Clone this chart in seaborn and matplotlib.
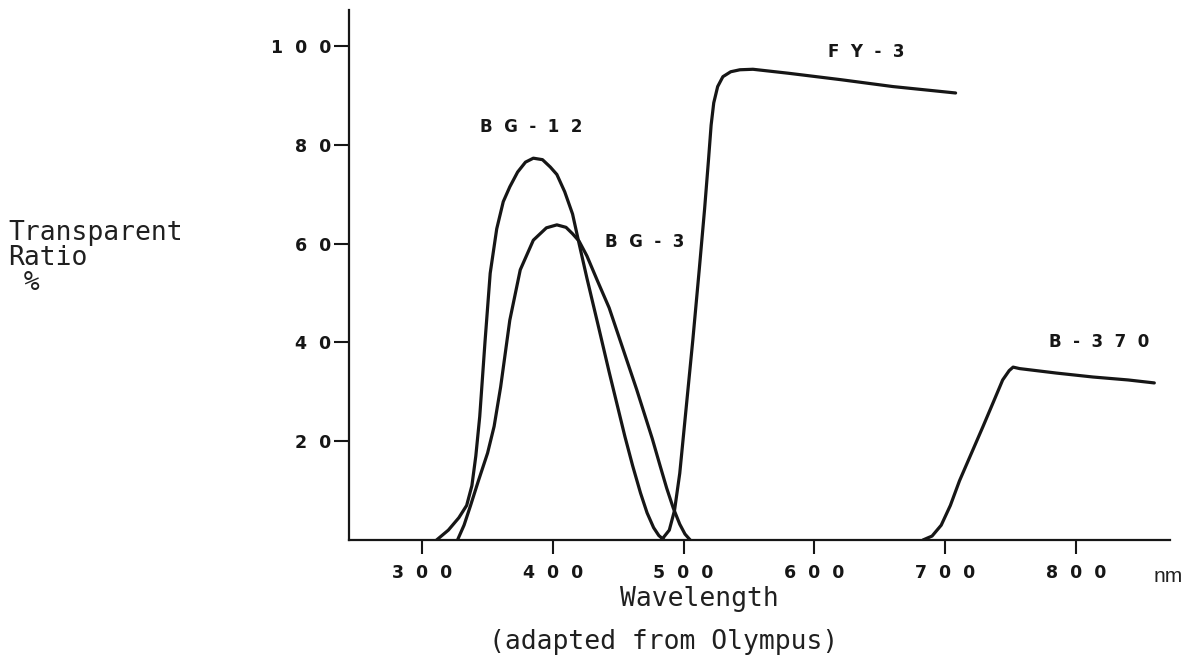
import matplotlib
matplotlib.use("Agg")
import matplotlib.pyplot as plt
import seaborn as sns

# ---- data (wavelength in nm, transparent ratio in %) ----
bg12_nm = [311, 320, 328, 334, 338, 341, 344, 348, 352, 357, 362, 367, 373, 379,
           385, 392, 398, 403, 409, 415, 420, 426, 435, 443, 449, 455, 461, 467,
           472, 477, 481, 485]
bg12_pct = [0, 2, 4.5, 7, 11, 17, 25, 40, 54, 63, 68.5, 71.5, 74.5, 76.5,
            77.3, 77, 75.5, 74, 70.5, 66, 60, 53, 43, 34, 27.5, 21, 15, 9.5,
            5.5, 2.5, 0.9, 0]

bg3_nm = [327, 332, 337, 343, 350, 355, 360, 367, 375, 385, 395, 403, 410, 415,
          420, 426, 434, 443, 450, 457, 464, 470, 476, 482, 487, 492, 497, 501, 505]
bg3_pct = [0, 3, 7, 12, 17.6, 23, 31, 44.5, 54.7, 60.7, 63.2, 63.8, 63.3, 62,
           60.5, 57.5, 52.5, 47, 41.5, 36, 30.5, 25.5, 20.5, 15, 10.5, 6.5, 3.2,
           1.2, 0]

fy3_nm = [483, 489, 493, 497, 502, 507, 512, 516, 519, 521, 523, 526, 530, 536,
          543, 553, 580, 620, 660, 708]
fy3_pct = [0, 2, 6, 13.5, 27, 40.5, 55, 67, 77, 84, 88.5, 91.8, 93.8, 94.8,
           95.2, 95.3, 94.5, 93.2, 91.8, 90.5]

b370_nm = [683, 690, 697, 704, 711, 720, 729, 737, 744, 749, 752, 757, 785, 813,
           840, 860]
b370_pct = [0, 0.8, 3, 7, 12, 17.5, 23, 28, 32.4, 34.3, 35, 34.7, 33.8, 33,
            32.4, 31.8]

curve_names = ["BG-12", "BG-3", "FY-3", "B-370"]
label_nm = [383, 470, 640, 818]
label_pct = [83.6, 60.3, 98.8, 40.0]

x_ticks = [300, 400, 500, 600, 700, 800]
y_ticks = [20, 40, 60, 80, 100]

# ---- figure ----
sns.set_style("ticks")
W, H = 1193, 668
fig = plt.figure(figsize=(W / 100, H / 100), dpi=100)
fig.patch.set_facecolor("white")

ax_left, ax_right, ax_bottom, ax_top = 349, 1170, 540, 10
ax = fig.add_axes([ax_left / W, 1 - ax_bottom / H,
                   (ax_right - ax_left) / W, (ax_bottom - ax_top) / H])
ax.set_facecolor("white")

ink = "#161616"
series = [(bg12_nm, bg12_pct), (bg3_nm, bg3_pct), (fy3_nm, fy3_pct),
          (b370_nm, b370_pct)]
for xs, ys in series:
    sns.lineplot(x=xs, y=ys, ax=ax, color=ink, linewidth=2.3,
                 sort=False, estimator=None)
for ln in ax.get_lines():
    ln.set_solid_joinstyle("round")
    ln.set_solid_capstyle("round")

ax.set_xlim(244, 872)
ax.set_ylim(0, 107.3)

sns.despine(ax=ax, top=True, right=True)
for side in ("left", "bottom"):
    ax.spines[side].set_linewidth(1.6)
    ax.spines[side].set_color(ink)

spaced = lambda s: "  ".join(list(s))

ax.set_xticks(x_ticks)
ax.set_xticklabels([spaced(str(v)) for v in x_ticks])
ax.set_yticks(y_ticks)
ax.set_yticklabels([spaced(str(v)) for v in y_ticks])
ax.tick_params(axis="x", direction="out", length=10, width=1.5, pad=7,
               color=ink, labelcolor=ink)
ax.tick_params(axis="y", direction="out", length=11, width=1.5, pad=2,
               color=ink, labelcolor=ink)
for lab in ax.get_xticklabels() + ax.get_yticklabels():
    lab.set_fontfamily("DejaVu Sans")
    lab.set_fontweight("bold")
    lab.set_fontsize(12.5)

ax.set_xlabel("")
ax.set_ylabel("")

# curve labels
for name, lx, ly in zip(curve_names, label_nm, label_pct):
    ax.text(lx, ly, spaced(name), ha="center", va="center",
            fontsize=12, fontweight="bold", family="DejaVu Sans", color=ink)

# free text
def ftext(px, py, s, **kw):
    fig.text(px / W, 1 - py / H, s, **kw)

mono = dict(family="DejaVu Sans Mono", color="#202020", fontsize=19)
ftext(1168, 577, "nm", ha="center", va="center", family="Liberation Sans",
      fontsize=15, color="#202020")
ftext(699, 599, "Wavelength", ha="center", va="center", **mono)
ftext(664, 642, "(adapted from Olympus)", ha="center", va="center", **mono)
ftext(8, 220, "Transparent\nRatio\n %", ha="left", va="top",
      linespacing=0.95, **mono)

fig.savefig("out.png", dpi=100, facecolor="white")
